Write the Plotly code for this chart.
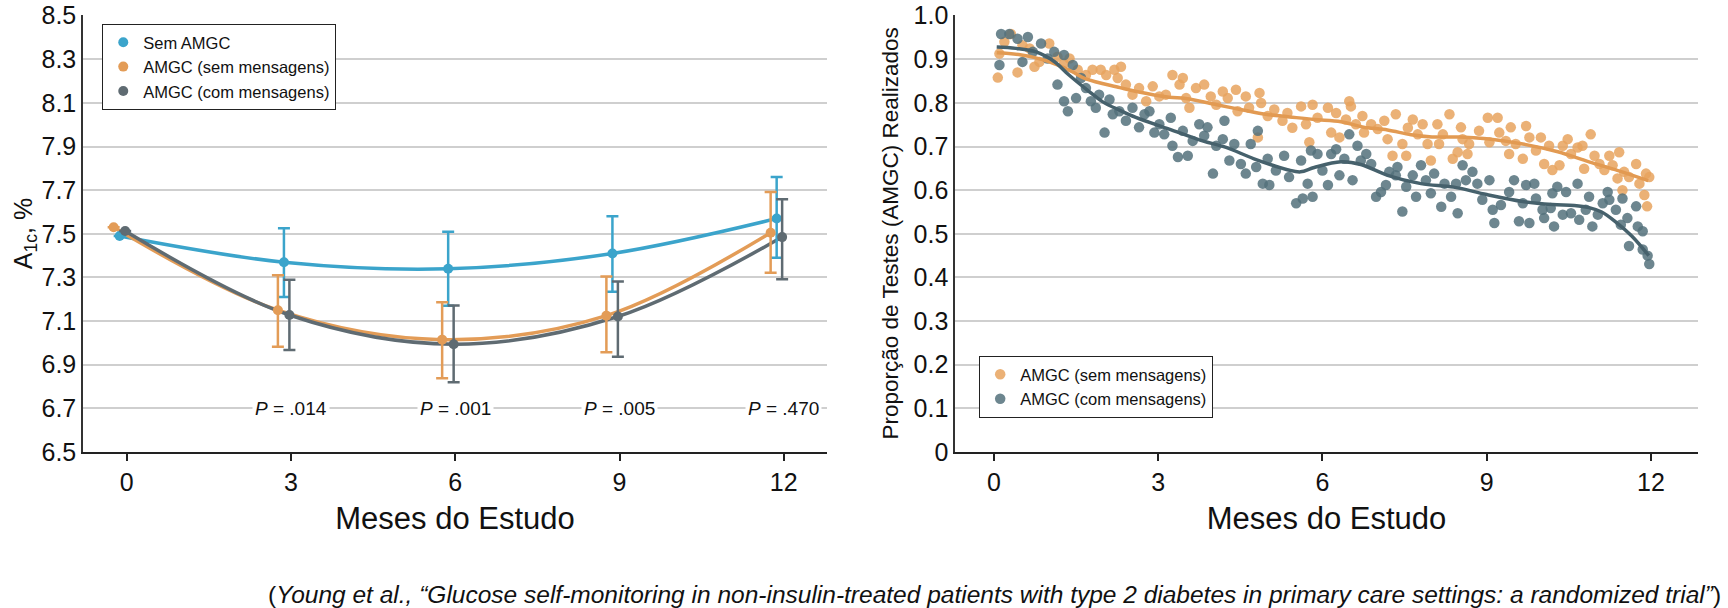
import plotly.graph_objects as go

# --- painel esquerdo: A1c por grupo ---
meses = [0, 3, 6, 9, 12]

sem_amgc = [7.49, 7.37, 7.34, 7.41, 7.57]
sem_amgc_sup = [7.49, 7.525, 7.51, 7.58, 7.76]
sem_amgc_inf = [7.49, 7.21, 7.17, 7.235, 7.39]

amgc_sem_msg = [7.53, 7.15, 7.015, 7.125, 7.505]
amgc_sem_msg_sup = [7.53, 7.31, 7.186, 7.304, 7.692]
amgc_sem_msg_inf = [7.53, 6.982, 6.838, 6.957, 7.322]

amgc_com_msg = [7.513, 7.128, 6.994, 7.121, 7.485]
amgc_com_msg_sup = [7.513, 7.29, 7.171, 7.282, 7.658]
amgc_com_msg_inf = [7.513, 6.967, 6.82, 6.937, 7.292]

p_meses = [3, 6, 9, 12]
p_valores = [".014", ".001", ".005", ".470"]

# --- painel direito: proporção de testes realizados ---
mes_sem = [0.07, 0.1, 0.19, 0.31, 0.43, 0.52, 0.65, 0.74, 0.83, 1.01, 1.16, 1.28, 1.38, 1.53,
           1.68, 1.8, 1.95, 2.05, 2.2, 2.32, 2.26, 2.41, 2.53, 2.65, 2.78, 2.9, 3.02, 3.14,
           3.26, 3.45, 3.39, 3.51, 3.57, 3.69, 3.84, 3.96, 4.06, 4.18, 4.27, 4.42, 4.45, 4.6,
           4.66, 4.85, 4.88, 4.82, 5.0, 5.12, 5.27, 5.36, 5.45, 5.61, 5.7, 5.76, 5.82, 5.91,
           6.1, 6.16, 6.25, 6.31, 6.49, 6.52, 6.43, 6.61, 6.73, 6.76, 6.89, 7.01, 7.13, 7.19,
           7.28, 7.34, 7.46, 7.53, 7.56, 7.65, 7.74, 7.83, 7.92, 7.98, 8.1, 8.13, 8.2, 8.32,
           8.38, 8.47, 8.53, 8.56, 8.68, 8.65, 8.86, 9.02, 9.05, 9.2, 9.23, 9.35, 9.41, 9.44,
           9.53, 9.66, 9.72, 9.78, 9.9, 9.99, 10.05, 10.14, 10.2, 10.33, 10.39, 10.48, 10.54,
           10.66, 10.75, 10.78, 10.9, 10.97, 11.06, 11.15, 11.24, 11.3, 11.42, 11.39, 11.51,
           11.48, 11.6, 11.73, 11.79, 11.91, 11.97, 11.88, 11.93]
prop_sem = [0.858, 0.913, 0.94, 0.958, 0.87, 0.932, 0.925, 0.883, 0.894, 0.936, 0.906, 0.89,
            0.902, 0.876, 0.864, 0.876, 0.876, 0.864, 0.876, 0.883, 0.857, 0.842, 0.819, 0.834,
            0.804, 0.838, 0.815, 0.819, 0.864, 0.857, 0.842, 0.811, 0.789, 0.834, 0.842, 0.815,
            0.796, 0.826, 0.811, 0.83, 0.781, 0.815, 0.789, 0.823, 0.8, 0.721, 0.77, 0.785,
            0.759, 0.777, 0.743, 0.792, 0.751, 0.71, 0.796, 0.766, 0.789, 0.732, 0.777, 0.721,
            0.804, 0.792, 0.762, 0.751, 0.77, 0.732, 0.751, 0.74, 0.759, 0.717, 0.679, 0.774,
            0.706, 0.679, 0.743, 0.762, 0.728, 0.751, 0.706, 0.668, 0.751, 0.706, 0.728, 0.774,
            0.672, 0.687, 0.744, 0.717, 0.706, 0.683, 0.736, 0.766, 0.71, 0.766, 0.732, 0.713,
            0.683, 0.744, 0.706, 0.672, 0.747, 0.721, 0.691, 0.721, 0.66, 0.702, 0.646, 0.657,
            0.702, 0.717, 0.683, 0.698, 0.702, 0.649, 0.728, 0.679, 0.66, 0.646, 0.679, 0.657,
            0.687, 0.627, 0.642, 0.6, 0.63, 0.66, 0.615, 0.638, 0.63, 0.589, 0.563]

mes_com = [0.1, 0.13, 0.28, 0.43, 0.62, 0.52, 0.71, 0.86, 0.98, 1.1, 1.16, 1.28, 1.28, 1.35,
           1.44, 1.5, 1.59, 1.68, 1.77, 1.86, 1.92, 2.02, 2.11, 2.17, 2.29, 2.41, 2.53, 2.65,
           2.75, 2.84, 2.93, 3.02, 3.11, 3.23, 3.26, 3.36, 3.45, 3.54, 3.63, 3.75, 3.84, 3.9,
           4.0, 4.06, 4.18, 4.21, 4.3, 4.39, 4.51, 4.6, 4.69, 4.82, 4.79, 4.91, 5.03, 5.0,
           5.15, 5.3, 5.39, 5.52, 5.64, 5.61, 5.73, 5.82, 5.79, 5.91, 6.0, 6.1, 6.16, 6.25,
           6.31, 6.4, 6.49, 6.55, 6.64, 6.7, 6.8, 6.89, 6.98, 7.07, 7.16, 7.22, 7.34, 7.37,
           7.46, 7.53, 7.65, 7.71, 7.8, 7.89, 7.98, 8.04, 8.17, 8.23, 8.35, 8.44, 8.47, 8.56,
           8.62, 8.74, 8.83, 8.92, 9.05, 9.11, 9.14, 9.26, 9.41, 9.5, 9.59, 9.66, 9.72, 9.78,
           9.87, 9.9, 10.02, 10.05, 10.17, 10.2, 10.23, 10.29, 10.39, 10.45, 10.54, 10.66,
           10.69, 10.81, 10.87, 10.93, 11.03, 11.12, 11.21, 11.24, 11.36, 11.45, 11.48, 11.57,
           11.6, 11.73, 11.76, 11.85, 11.85, 11.94, 11.97]
prop_com = [0.887, 0.958, 0.958, 0.947, 0.951, 0.894, 0.917, 0.936, 0.902, 0.917, 0.842, 0.91,
            0.804, 0.781, 0.887, 0.811, 0.857, 0.834, 0.804, 0.789, 0.819, 0.732, 0.808, 0.774,
            0.781, 0.759, 0.789, 0.744, 0.774, 0.781, 0.732, 0.751, 0.728, 0.766, 0.702, 0.676,
            0.736, 0.679, 0.713, 0.751, 0.725, 0.744, 0.638, 0.702, 0.717, 0.759, 0.668, 0.706,
            0.66, 0.638, 0.706, 0.736, 0.653, 0.615, 0.612, 0.672, 0.645, 0.679, 0.63, 0.57,
            0.581, 0.668, 0.615, 0.585, 0.691, 0.683, 0.645, 0.612, 0.683, 0.694, 0.634, 0.672,
            0.728, 0.623, 0.702, 0.668, 0.683, 0.66, 0.585, 0.596, 0.612, 0.642, 0.634, 0.653,
            0.551, 0.608, 0.634, 0.585, 0.657, 0.623, 0.593, 0.638, 0.562, 0.615, 0.585, 0.615,
            0.547, 0.657, 0.623, 0.642, 0.615, 0.578, 0.623, 0.555, 0.525, 0.566, 0.596, 0.623,
            0.529, 0.57, 0.612, 0.525, 0.615, 0.581, 0.555, 0.536, 0.559, 0.593, 0.517, 0.608,
            0.544, 0.596, 0.547, 0.615, 0.532, 0.555, 0.585, 0.517, 0.544, 0.57, 0.596, 0.578,
            0.555, 0.521, 0.581, 0.536, 0.472, 0.563, 0.517, 0.506, 0.464, 0.45, 0.431]

tend_mes_sem = [0.05, 0.5, 1.0, 1.42, 1.68, 2.3, 2.6, 3.2, 3.5, 4.07, 4.5, 4.96, 5.4, 5.85,
                6.34, 6.73, 7.19, 7.62, 8.0, 8.5, 9.0, 9.66, 10.3, 10.87, 11.4, 11.95]
tend_sem = [0.915, 0.91, 0.895, 0.872, 0.855, 0.835, 0.826, 0.813, 0.81, 0.796, 0.785, 0.774,
            0.768, 0.762, 0.757, 0.745, 0.738, 0.727, 0.722, 0.722, 0.718, 0.706, 0.688, 0.665,
            0.645, 0.622]
tend_mes_com = [0.05, 0.4, 0.77, 1.1, 1.37, 1.7, 1.98, 2.3, 2.59, 3.2, 3.81, 4.24, 4.75, 5.36,
                5.6, 5.85, 6.34, 6.7, 7.19, 7.8, 8.4, 9.0, 9.66, 10.2, 10.6, 10.87, 11.1,
                11.36, 11.65, 11.96]
tend_com = [0.928, 0.925, 0.917, 0.895, 0.864, 0.83, 0.803, 0.783, 0.767, 0.74, 0.713, 0.698,
            0.672, 0.647, 0.642, 0.652, 0.665, 0.659, 0.634, 0.615, 0.607, 0.59, 0.574, 0.567,
            0.565, 0.56, 0.55, 0.527, 0.495, 0.45]

AZUL = "#3ba4cb"
LARANJA = "#e39c57"
CINZA = "#5f6b72"
LARANJA_D = "#e8a35e"
CINZA_D = "#54717b"
FONTE = "Liberation Sans, Arial, sans-serif"

fig = go.Figure()

grupos = [
    ("Sem AMGC", sem_amgc, sem_amgc_sup, sem_amgc_inf, AZUL, -0.13),
    ("AMGC (sem mensagens)", amgc_sem_msg, amgc_sem_msg_sup, amgc_sem_msg_inf, LARANJA, -0.24),
    ("AMGC (com mensagens)", amgc_com_msg, amgc_com_msg_sup, amgc_com_msg_inf, CINZA, -0.03),
]

for nome, y, sup, inf, cor, desl in grupos:
    x = [m + desl for m in meses]
    fig.add_trace(go.Scatter(
        x=x, y=y, mode="lines", line=dict(color=cor, width=3.5, shape="spline"),
        showlegend=False, xaxis="x", yaxis="y", hoverinfo="skip"))
for nome, y, sup, inf, cor, desl in grupos:
    x = [m + desl for m in meses]
    fig.add_trace(go.Scatter(
        x=x, y=y, mode="markers", name=nome,
        marker=dict(color=cor, size=10),
        error_y=dict(type="data", symmetric=False,
                     array=[s - v for s, v in zip(sup, y)],
                     arrayminus=[v - i for v, i in zip(y, inf)],
                     color=cor, thickness=2.5, width=6),
        legend="legend", xaxis="x", yaxis="y"))

# painel direito
fig.add_trace(go.Scatter(
    x=mes_sem, y=prop_sem, mode="markers", name="AMGC (sem mensagens)",
    marker=dict(color=LARANJA_D, size=10.5, opacity=0.85),
    legend="legend2", xaxis="x2", yaxis="y2"))
fig.add_trace(go.Scatter(
    x=mes_com, y=prop_com, mode="markers", name="AMGC (com mensagens)",
    marker=dict(color=CINZA_D, size=10.5, opacity=0.85),
    legend="legend2", xaxis="x2", yaxis="y2"))
fig.add_trace(go.Scatter(
    x=tend_mes_sem, y=tend_sem, mode="lines", showlegend=False,
    line=dict(color="#e29a52", width=3.5, shape="spline"), xaxis="x2", yaxis="y2"))
fig.add_trace(go.Scatter(
    x=tend_mes_com, y=tend_com, mode="lines", showlegend=False,
    line=dict(color="#46616c", width=3.5, shape="spline"), xaxis="x2", yaxis="y2"))

for m, p in zip(p_meses, p_valores):
    fig.add_annotation(x=m, y=6.7, xref="x", yref="y", text=f"<i>P</i> = {p}",
                       showarrow=False, bgcolor="white", borderpad=2,
                       font=dict(size=19, color="#111", family=FONTE))

# título do eixo y direito
fig.add_annotation(x=0.4997, y=0.5, xref="paper", yref="paper", textangle=-90,
                   showarrow=False, text="Proporção de Testes (AMGC) Realizados",
                   font=dict(size=22.5, color="#111", family=FONTE))

fig.add_annotation(
    x=1.0155, y=-0.326, xref="paper", yref="paper", xanchor="right", yanchor="middle",
    showarrow=False,
    text="(<i>Young et al., “Glucose self-monitoring in non-insulin-treated patients with type 2 "
         "diabetes in primary care settings: a randomized trial”</i>)",
    font=dict(size=24.5, color="#111", family=FONTE))

eixo_x = dict(tickvals=meses, ticks="outside", ticklen=7, tickwidth=1.5, tickcolor="#222",
              showline=True, linecolor="#222", linewidth=2, showgrid=False, zeroline=False,
              automargin=False, tickfont=dict(size=25, color="#111"),
              title=dict(text="Meses do Estudo", font=dict(size=31, color="#111"), standoff=12))
eixo_y = dict(showline=True, linecolor="#333", linewidth=1.5, showgrid=True,
              gridcolor="#cfcfcf", gridwidth=1.5, zeroline=False, ticks="",
              automargin=False, ticklabeloverflow="allow",
              tickfont=dict(size=25, color="#111"))

fig.update_layout(
    width=1728, height=608,
    paper_bgcolor="white", plot_bgcolor="white",
    font=dict(family=FONTE, color="#111"),
    margin=dict(l=83, r=30, t=15, b=156),
    xaxis=dict(domain=[0, 0.4607], range=[-0.8, 12.79], **eixo_x),
    yaxis=dict(range=[6.5, 8.503], tickvals=[round(6.5 + 0.2 * i, 1) for i in range(11)],
               tickformat=".1f",
               title=dict(text="A<sub>1c</sub>, %", font=dict(size=25, color="#111"), standoff=2),
               **eixo_y),
    xaxis2=dict(domain=[0.54, 1], range=[-0.71, 12.86], anchor="y2", **eixo_x),
    yaxis2=dict(range=[0, 1.0015], anchor="x2", tickvals=[i / 10 for i in range(11)],
                ticktext=["0"] + [f"{i / 10:.1f}" for i in range(1, 11)], **eixo_y),
    legend=dict(x=0.0118, y=0.98, xanchor="left", yanchor="top", bgcolor="white",
                bordercolor="#222", borderwidth=1.2, font=dict(size=16.5, color="#111"),
                tracegroupgap=0),
    legend2=dict(x=0.5548, y=0.22, xanchor="left", yanchor="top", bgcolor="white",
                 bordercolor="#222", borderwidth=1.2, font=dict(size=16.5, color="#111"),
                 tracegroupgap=0),
)

fig.write_html("out.html", config={"displayModeBar": False},
               post_script="document.body.style.margin='0px';")
